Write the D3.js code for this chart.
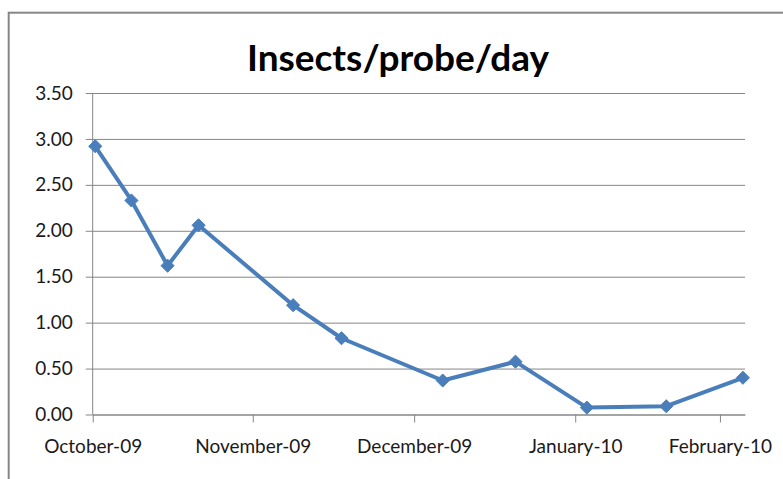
<!DOCTYPE html>
<html>
<head>
<meta charset="utf-8">
<script src="https://cdn.jsdelivr.net/npm/d3@7"></script>
<style>
  body { margin: 0; background: #fff; }
  svg { display: block; font-family: Lato, "Open Sans", sans-serif; }
</style>
</head>
<body>
<svg id="chart" width="783" height="479"></svg>
<script>
// sampling dates and insects per probe per day
var dates = ["2009-10-01", "2009-10-08", "2009-10-15", "2009-10-21", "2009-11-08",
             "2009-11-17", "2009-12-06", "2009-12-20", "2010-01-03", "2010-01-20", "2010-02-06"];
var values = [2.92, 2.33, 1.62, 2.06, 1.19, 0.83, 0.37, 0.575, 0.075, 0.09, 0.40];

var monthTicks = ["2009-10-01", "2009-11-01", "2009-12-01", "2010-01-01", "2010-02-01"];
var axisEnd = "2010-02-07";
var yTicks = [0, 0.5, 1, 1.5, 2, 2.5, 3, 3.5];

var title = "Insects/probe/day";

var parse = d3.utcParse("%Y-%m-%d");
var fmtMonth = d3.utcFormat("%B-%y");

var svg = d3.select("#chart");
var margin = {left: 92.7, top: 93, right: 38, bottom: 64.5};
var w = 783 - margin.left - margin.right;
var h = 479 - margin.top - margin.bottom;

// chart area border (runs off the right and bottom of the picture)
svg.append("rect")
  .attr("x", 8.7).attr("y", 12.7)
  .attr("width", 820).attr("height", 520)
  .attr("fill", "#fff")
  .attr("stroke", "#868686")
  .attr("stroke-width", 2);

svg.append("text")
  .attr("x", 398).attr("y", 71)
  .attr("text-anchor", "middle")
  .attr("font-size", 37)
  .attr("font-weight", "bold")
  .attr("fill", "#000")
  .text(title);

var g = svg.append("g").attr("transform", "translate(" + margin.left + "," + margin.top + ")");

// month slots are not all the same width on the original axis
var tickDates = monthTicks.map(parse).concat([parse(axisEnd)]);
var x = d3.scaleUtc()
  .domain(tickDates)
  .range([0, 0.2454, 0.4928, 0.7397, 0.9616, 1].map(function (f) { return f * w; }));

var y = d3.scaleLinear().domain([0, 3.5]).range([h, 0]);

// gridlines + y axis
var yAxis = g.append("g")
  .call(d3.axisLeft(y).tickValues(yTicks).tickSize(-w).tickSizeOuter(0).tickPadding(20)
    .tickFormat(d3.format(".2f")));
yAxis.select(".domain").remove();
yAxis.selectAll(".tick line")
  .attr("x1", -7)
  .attr("stroke", "#868686");
yAxis.selectAll(".tick text")
  .attr("font-size", 19)
  .attr("fill", "#1a1a1a")
  .attr("font-family", "Lato, 'Open Sans', sans-serif");

g.append("line")
  .attr("x1", 0).attr("x2", 0).attr("y1", 0).attr("y2", h)
  .attr("stroke", "#868686");

// x axis
var xAxis = g.append("g")
  .attr("transform", "translate(0," + h + ")")
  .call(d3.axisBottom(x).tickValues(monthTicks.map(parse)).tickSize(8).tickSizeOuter(0)
    .tickPadding(17).tickFormat(fmtMonth));
xAxis.select(".domain").attr("stroke", "#868686");
xAxis.selectAll(".tick line").attr("stroke", "#868686");
xAxis.selectAll(".tick text")
  .attr("font-size", 19)
  .attr("fill", "#1a1a1a")
  .attr("font-family", "Lato, 'Open Sans', sans-serif");

// series, points sit in the middle of their day slot
var pts = dates.map(function (d, i) {
  return {date: d3.utcHour.offset(parse(d), 12), value: values[i]};
});

var line = d3.line()
  .x(function (d) { return x(d.date); })
  .y(function (d) { return y(d.value); });

g.append("path")
  .datum(pts)
  .attr("d", line)
  .attr("fill", "none")
  .attr("stroke", "#4a7ebb")
  .attr("stroke-width", 4)
  .attr("stroke-linejoin", "round");

g.selectAll(".marker")
  .data(pts)
  .enter().append("path")
  .attr("class", "marker")
  .attr("transform", function (d) { return "translate(" + x(d.date) + "," + y(d.value) + ")"; })
  .attr("d", d3.symbol().type(d3.symbolDiamond2).size(110))
  .attr("fill", "#4a7ebb")
  .attr("stroke", "#4a7ebb")
  .attr("stroke-width", 1);
</script>
</body>
</html>
